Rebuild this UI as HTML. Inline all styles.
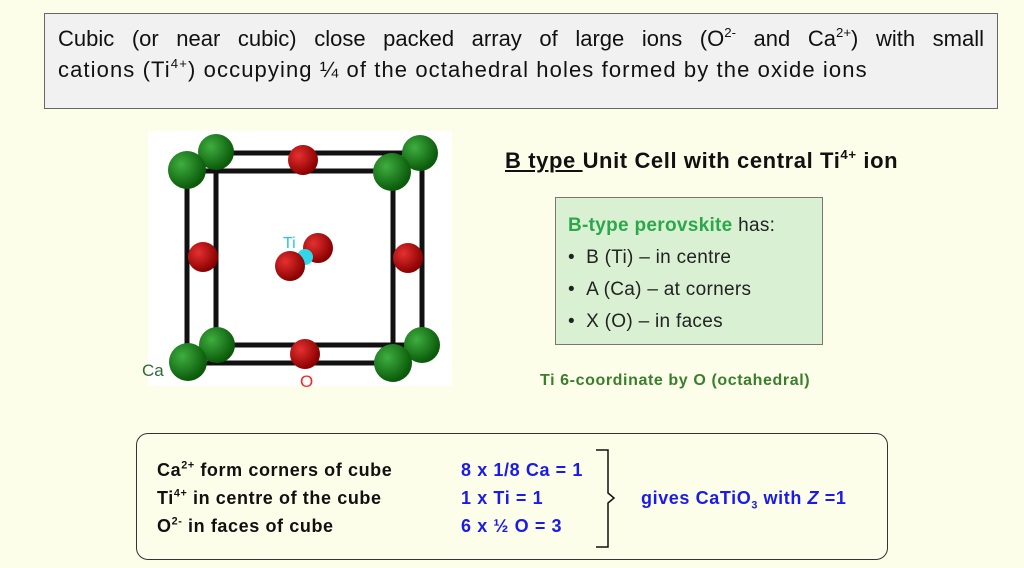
<!DOCTYPE html>
<html><head><meta charset="utf-8"><style>
body{margin:0;width:1024px;height:568px;background:#fdfeea;position:relative;overflow:hidden;font-family:"Liberation Sans",sans-serif}
.a{position:absolute}
sup{font-size:60%;line-height:0;vertical-align:0.7em}
sub{font-size:60%;line-height:0}
</style></head><body>
<div class="a" style="left:44px;top:13px;width:952px;height:94px;background:#f1f1f1;border:1px solid #666"></div>
<div class="a" style="left:58px;top:26px;width:926px;font-size:22px;color:#111;text-align:justify;text-align-last:justify;white-space:nowrap">Cubic (or near cubic) close packed array of large ions (O<sup>2-</sup> and Ca<sup>2+</sup>) with small</div>
<div class="a" style="left:58px;top:57px;font-size:22px;color:#111;white-space:nowrap;letter-spacing:1.1px">cations (Ti<sup>4+</sup>) occupying ¼ of the octahedral holes formed by the oxide ions</div>

<div class="a" style="left:148px;top:131px;width:304px;height:255px;background:#fff"></div>
<svg class="a" style="left:0;top:0" width="1024" height="568">
<defs>
<radialGradient id="g" cx="35%" cy="35%" r="65%"><stop offset="0" stop-color="#3fae3f"/><stop offset="1" stop-color="#0a5a0a"/></radialGradient>
<radialGradient id="r" cx="35%" cy="35%" r="65%"><stop offset="0" stop-color="#e53030"/><stop offset="1" stop-color="#8a0000"/></radialGradient>
</defs>
<g stroke="#111" stroke-width="5" fill="none">
<rect x="216" y="153" width="206" height="192"/>
<rect x="187" y="171" width="206" height="192"/>
<line x1="187" y1="171" x2="216" y2="153"/><line x1="393" y1="171" x2="422" y2="153"/>
<line x1="187" y1="363" x2="216" y2="345"/><line x1="393" y1="363" x2="422" y2="345"/>
</g>
<g fill="url(#r)">
<circle cx="303" cy="160" r="15"/><circle cx="305" cy="354" r="15"/>
<circle cx="203" cy="257" r="15"/><circle cx="408" cy="258" r="15"/>
<circle cx="318" cy="248" r="15"/>
</g>
<circle cx="305" cy="257" r="8" fill="#2fd8e8"/>
<circle cx="290" cy="266" r="15" fill="url(#r)"/>
<g fill="url(#g)">
<circle cx="216" cy="152" r="18"/><circle cx="420" cy="153" r="18"/>
<circle cx="217" cy="345" r="18"/><circle cx="422" cy="345" r="18"/>
<circle cx="187" cy="170" r="19"/><circle cx="392" cy="172" r="19"/>
<circle cx="188" cy="362" r="19"/><circle cx="393" cy="363" r="19"/>
</g>
<text x="142" y="376" font-size="17" fill="#2f6a3a" font-family="Liberation Sans">Ca</text>
<text x="300" y="387" font-size="17" fill="#ff2020" font-family="Liberation Sans">O</text>
<text x="283" y="248" font-size="16" fill="#20c8e0" font-family="Liberation Sans">Ti</text>
<path d="M596 450 H608 V493 L614 498 L608 503 V547 H596" stroke="#111" stroke-width="1.5" fill="none"/>
</svg>

<div class="a" style="left:505px;top:148px;font-size:22px;font-weight:bold;color:#111;white-space:nowrap;letter-spacing:0.6px"><span style="text-decoration:underline">B type </span>Unit Cell with central Ti<sup>4+</sup> ion</div>
<div class="a" style="left:555px;top:197px;width:266px;height:146px;background:#d9f1d2;border:1px solid #777"></div>
<div class="a" style="left:568px;top:210px;font-size:19px;color:#222;line-height:32px;white-space:nowrap;letter-spacing:0.3px">
<div><span style="color:#2aa84a;font-weight:bold">B-type perovskite</span> has:</div>
<div>• &nbsp;B (Ti) – in centre</div>
<div>• &nbsp;A (Ca) – at corners</div>
<div>• &nbsp;X (O) – in faces</div>
</div>
<div class="a" style="left:540px;top:372px;font-size:16px;font-weight:bold;color:#3a7d2a;white-space:nowrap;letter-spacing:0.6px">Ti 6-coordinate by O (octahedral)</div>

<div class="a" style="left:136px;top:433px;width:750px;height:125px;border:1.5px solid #333;border-radius:12px"></div>
<div class="a" style="left:157px;top:456px;font-size:18px;font-weight:bold;color:#111;line-height:28px;white-space:nowrap;letter-spacing:0.6px">
<div>Ca<sup>2+</sup> form corners of cube</div>
<div>Ti<sup>4+</sup> in centre of the cube</div>
<div>O<sup>2-</sup> in faces of cube</div>
</div>
<div class="a" style="left:461px;top:456px;font-size:18px;font-weight:bold;color:#1a1aee;line-height:28px;white-space:nowrap;letter-spacing:0.6px">
<div>8 x 1/8 Ca = 1</div>
<div>1 x Ti = 1</div>
<div>6 x ½ O = 3</div>
</div>
<div class="a" style="left:641px;top:488px;font-size:18px;font-weight:bold;color:#1a1aee;white-space:nowrap;letter-spacing:0.6px">gives CaTiO<sub>3</sub> with <i>Z</i> =1</div>
</body></html>
